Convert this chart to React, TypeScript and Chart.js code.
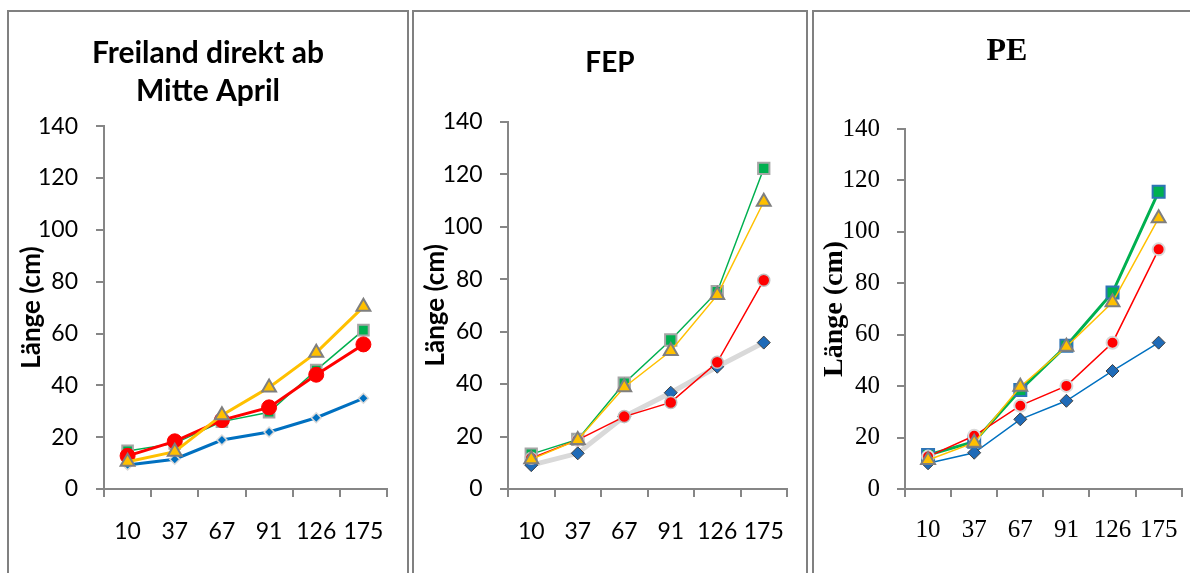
import React, { useEffect, useRef } from "react";
import { Chart, registerables } from "chart.js";

Chart.register(...registerables);

const categories = ["10", "37", "67", "91", "126", "175"];
const yTicks = [0, 20, 40, 60, 80, 100, 120, 140];
const axisTitle = "Länge (cm)";

const titleFreiland = ["Freiland direkt ab", "Mitte April"];
const p1Blue = [9.3, 11.5, 18.9, 22.0, 27.5, 35.0];
const p1Green = [14.7, 17.6, 26.0, 29.6, 45.9, 61.3];
const p1Red = [12.8, 18.4, 26.6, 31.5, 44.1, 55.8];
const p1Yellow = [10.5, 14.4, 28.5, 39.2, 52.6, 70.3];

const titleFEP = "FEP";
const p2Blue = [9.1, 13.6, 27.6, 36.7, 46.6, 55.8];
const p2Green = [13.3, 18.9, 40.3, 56.8, 75.2, 122.2];
const p2Red = [11.7, 18.7, 27.6, 33.0, 48.3, 79.6];
const p2Yellow = [11.3, 18.7, 38.8, 52.6, 73.9, 109.5];

const titlePE = "PE";
const p3Blue = [10.0, 14.1, 27.1, 34.3, 45.9, 56.9];
const p3Green = [13.2, 18.4, 38.5, 55.7, 76.4, 115.6];
const p3Red = [12.6, 20.7, 32.4, 40.1, 56.9, 93.2];
const p3Yellow = [11.3, 18.0, 39.8, 55.3, 72.6, 105.3];

const AXIS = "#868686";

type DS = {
  data: number[];
  line: string;
  lineWidth: number;
  fill: string;
  border: string;
  borderWidth: number;
  style: string;
  radius: number;
  order: number;
};

type PanelCfg = {
  left: number;
  top: number;
  width: number;
  height: number;
  family: string;
  title: string | string[];
  titleSize: number;
  titleLH: number;
  titlePadTop: number;
  titlePadBottom: number;
  tickSize: number;
  yTickPad: number;
  xTickPad: number;
  axisTitleSize: number;
  axisTitleX: number;
  plotLeft: number;
  xHeight: number;
  pad: number;
  datasets: DS[];
};

function makeDatasets(list: DS[]) {
  return list.map((d) => ({
    data: d.data,
    borderColor: d.line,
    borderWidth: d.lineWidth,
    backgroundColor: d.fill,
    pointBackgroundColor: d.fill,
    pointBorderColor: d.border,
    pointBorderWidth: d.borderWidth,
    pointStyle: d.style as any,
    pointRadius: d.radius,
    tension: 0,
    fill: false,
    order: d.order,
  }));
}

function Panel({ cfg }: { cfg: PanelCfg }) {
  const ref = useRef<HTMLCanvasElement | null>(null);
  useEffect(() => {
    if (!ref.current) return;
    // axis title centre = pad + lineHeight/2
    const axisLH = (2 * (cfg.axisTitleX - cfg.pad)) / cfg.axisTitleSize;
    const chart = new Chart(ref.current, {
      type: "line",
      data: { labels: categories, datasets: makeDatasets(cfg.datasets) as any },
      options: {
        animation: false,
        responsive: false,
        maintainAspectRatio: false,
        layout: { padding: { left: cfg.pad, right: cfg.pad, top: 0, bottom: 0 } },
        plugins: {
          legend: { display: false },
          tooltip: { enabled: false },
          title: {
            display: true,
            text: cfg.title,
            color: "#000",
            font: {
              family: cfg.family,
              size: cfg.titleSize,
              weight: "bold",
              lineHeight: cfg.titleLH,
            },
            padding: { top: cfg.titlePadTop, bottom: cfg.titlePadBottom },
          },
        },
        scales: {
          x: {
            type: "category",
            offset: true,
            grid: {
              display: true,
              drawOnChartArea: false,
              drawTicks: true,
              tickLength: 8,
              color: AXIS,
              lineWidth: 2,
              offset: true,
            },
            border: { display: true, color: AXIS, width: 2 },
            ticks: {
              color: "#000",
              padding: cfg.xTickPad,
              maxRotation: 0,
              autoSkip: false,
              font: { family: cfg.family, size: cfg.tickSize },
            },
            afterFit: (s: any) => {
              s.height = cfg.xHeight;
            },
          },
          y: {
            min: 0,
            max: 140,
            afterBuildTicks: (s: any) => {
              s.ticks = yTicks.map((v) => ({ value: v }));
            },
            grid: {
              display: true,
              drawOnChartArea: false,
              drawTicks: true,
              tickLength: 8,
              color: AXIS,
              lineWidth: 2,
            },
            border: { display: true, color: AXIS, width: 2 },
            ticks: {
              color: "#000",
              padding: cfg.yTickPad,
              font: { family: cfg.family, size: cfg.tickSize },
            },
            title: {
              display: true,
              text: axisTitle,
              color: "#000",
              font: {
                family: cfg.family,
                size: cfg.axisTitleSize,
                weight: "bold",
                lineHeight: axisLH,
              },
              padding: 0,
            },
            afterFit: (s: any) => {
              s.width = cfg.plotLeft - cfg.pad;
            },
          },
        },
      } as any,
    });
    return () => chart.destroy();
  }, [cfg]);
  return (
    <canvas
      ref={ref}
      width={cfg.width}
      height={cfg.height}
      style={{
        position: "absolute",
        left: cfg.left,
        top: cfg.top,
        width: cfg.width,
        height: cfg.height,
      }}
    />
  );
}

const LATO = "Lato, 'Open Sans', sans-serif";
const SERIF = "'Liberation Serif', 'Times New Roman', serif";

const panel1: PanelCfg = {
  left: 8,
  top: 11,
  width: 400,
  height: 562,
  family: LATO,
  title: titleFreiland,
  titleSize: 30,
  titleLH: 1.27,
  titlePadTop: 23,
  titlePadBottom: 16,
  tickSize: 23,
  yTickPad: 18,
  xTickPad: 21,
  axisTitleSize: 26,
  axisTitleX: 24,
  plotLeft: 96,
  xHeight: 84,
  pad: 21,
  datasets: [
    { data: p1Blue, line: "#0070C0", lineWidth: 3, fill: "#0070C0", border: "#D9D9D9", borderWidth: 1.5, style: "rectRot", radius: 5, order: 4 },
    { data: p1Green, line: "#00B050", lineWidth: 1.5, fill: "#00B050", border: "#A6A6A6", borderWidth: 2, style: "rect", radius: 7.5, order: 3 },
    { data: p1Red, line: "#FF0000", lineWidth: 3, fill: "#FF0000", border: "#FF0000", borderWidth: 1, style: "circle", radius: 7.5, order: 2 },
    { data: p1Yellow, line: "#FFC000", lineWidth: 3, fill: "#FFC000", border: "#7F7F7F", borderWidth: 2, style: "triangle", radius: 8, order: 1 },
  ],
};

const panel2: PanelCfg = {
  left: 413,
  top: 11,
  width: 394,
  height: 562,
  family: LATO,
  title: titleFEP,
  titleSize: 28,
  titleLH: 1.2,
  titlePadTop: 35.2,
  titlePadBottom: 41.9,
  tickSize: 23,
  yTickPad: 17.3,
  xTickPad: 21,
  axisTitleSize: 26,
  axisTitleX: 22.5,
  plotLeft: 95,
  xHeight: 84,
  pad: 20,
  datasets: [
    { data: p2Blue, line: "#D9D9D9", lineWidth: 5, fill: "#1F6BB8", border: "#404040", borderWidth: 1, style: "rectRot", radius: 6.5, order: 4 },
    { data: p2Green, line: "#00B050", lineWidth: 1.5, fill: "#00B050", border: "#A6A6A6", borderWidth: 2, style: "rect", radius: 8, order: 3 },
    { data: p2Red, line: "#FF0000", lineWidth: 1.5, fill: "#FF0000", border: "#BFBFBF", borderWidth: 1.5, style: "circle", radius: 6, order: 2 },
    { data: p2Yellow, line: "#FFC000", lineWidth: 1.5, fill: "#FFC000", border: "#7F7F7F", borderWidth: 2, style: "triangle", radius: 8, order: 1 },
  ],
};

const panel3: PanelCfg = {
  left: 813,
  top: 11,
  width: 388,
  height: 562,
  family: SERIF,
  title: titlePE,
  titleSize: 32,
  titleLH: 1.2,
  titlePadTop: 21.3,
  titlePadBottom: 58.3,
  tickSize: 25,
  yTickPad: 17,
  xTickPad: 18,
  axisTitleSize: 28,
  axisTitleX: 22,
  plotLeft: 92,
  xHeight: 84,
  pad: 19.3,
  datasets: [
    { data: p3Blue, line: "#0070C0", lineWidth: 1.5, fill: "#1F6BB8", border: "#404040", borderWidth: 1, style: "rectRot", radius: 6.5, order: 4 },
    { data: p3Green, line: "#00B050", lineWidth: 3, fill: "#00B050", border: "#2E75B6", borderWidth: 2, style: "rect", radius: 8.5, order: 3 },
    { data: p3Red, line: "#FF0000", lineWidth: 1.5, fill: "#FF0000", border: "#D9D9D9", borderWidth: 2, style: "circle", radius: 6, order: 2 },
    { data: p3Yellow, line: "#FFC000", lineWidth: 1.5, fill: "#FFC000", border: "#7F7F7F", borderWidth: 2, style: "triangle", radius: 8, order: 1 },
  ],
};

const frames = [
  { left: 7, top: 10, width: 402 },
  { left: 412, top: 10, width: 396 },
  { left: 812, top: 10, width: 400 },
];

export default function App() {
  return (
    <div
      style={{
        position: "fixed",
        left: 0,
        top: 0,
        width: 1190,
        height: 573,
        overflow: "hidden",
        background: "#fff",
      }}
    >
      {frames.map((f, i) => (
        <div
          key={i}
          style={{
            position: "absolute",
            left: f.left,
            top: f.top,
            width: f.width,
            height: 620,
            boxSizing: "border-box",
            border: "2px solid #808080",
          }}
        />
      ))}
      <Panel cfg={panel1} />
      <Panel cfg={panel2} />
      <Panel cfg={panel3} />
    </div>
  );
}
